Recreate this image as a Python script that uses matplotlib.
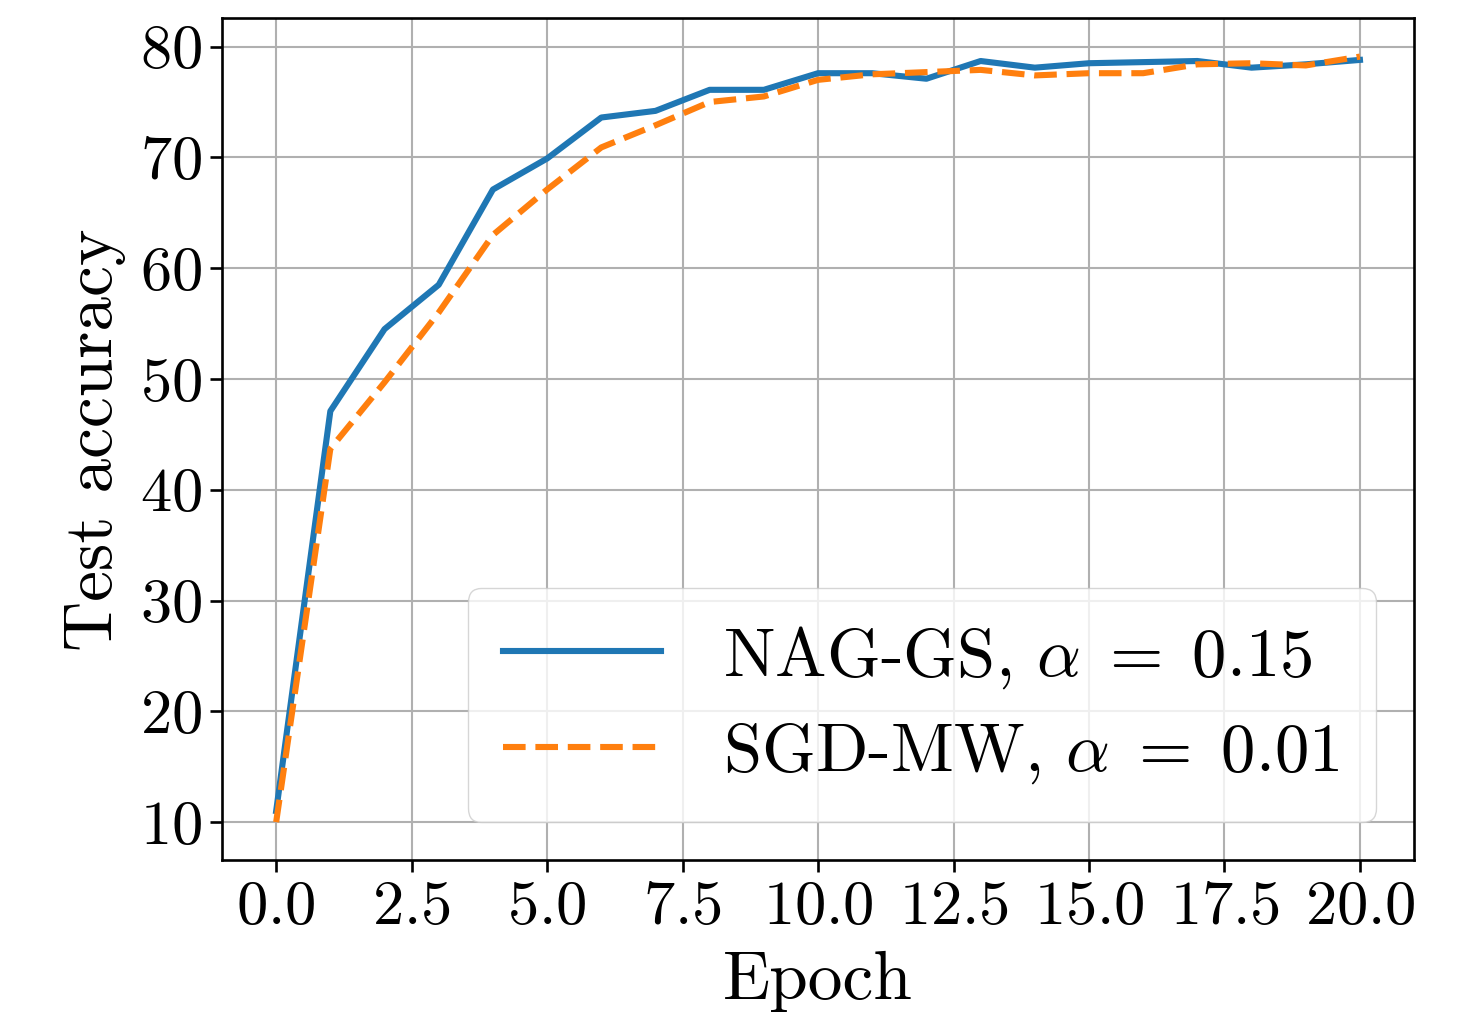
import matplotlib
matplotlib.use('Agg')
import matplotlib.pyplot as plt
import numpy as np

plt.rcParams['font.family'] = 'serif'
plt.rcParams['font.serif'] = ['cmr10']
plt.rcParams['mathtext.fontset'] = 'cm'
plt.rcParams['axes.formatter.use_mathtext'] = True

epochs = np.arange(21)
nag_gs = [11.0, 47.1, 54.5, 58.5, 67.1, 69.9, 73.6, 74.2, 76.1, 76.1, 77.6,
          77.6, 77.1, 78.7, 78.1, 78.5, 78.6, 78.7, 78.1, 78.4, 78.8]
sgd_mw = [10.0, 43.7, 49.7, 56.0, 63.0, 67.1, 70.9, 72.9, 75.0, 75.5, 77.0,
          77.5, 77.7, 77.9, 77.4, 77.6, 77.6, 78.4, 78.5, 78.3, 79.1]

fig, ax = plt.subplots(figsize=(14.7, 10.17), dpi=100)
fig.subplots_adjust(left=0.151, right=0.962, top=0.982, bottom=0.154)

ax.plot(epochs, nag_gs, '-', color='#1f77b4', linewidth=4.4, label=r'NAG-GS, $\alpha\;=\;0.15$')
ax.plot(epochs, sgd_mw, '--', color='#ff7f0e', linewidth=4.4, label=r'SGD-MW, $\alpha\;=\;0.01$')

ax.grid(True, color='#b0b0b0', linewidth=1.5)
ax.set_xticks(np.arange(0, 20.1, 2.5))
ax.set_yticks(np.arange(10, 81, 10))
ax.tick_params(labelsize=45, width=1.9, length=8.5, pad=6)
for s in ax.spines.values():
    s.set_linewidth(1.9)

ax.set_xlabel('Epoch', fontsize=50, labelpad=11)
ax.set_ylabel('Test accuracy', fontsize=50, labelpad=10)
ax.legend(loc='lower right', fontsize=49.5, handlelength=2.3, handletextpad=0.9,
          borderpad=0.52, labelspacing=0.45, borderaxespad=0.56)

plt.savefig('out.png')
